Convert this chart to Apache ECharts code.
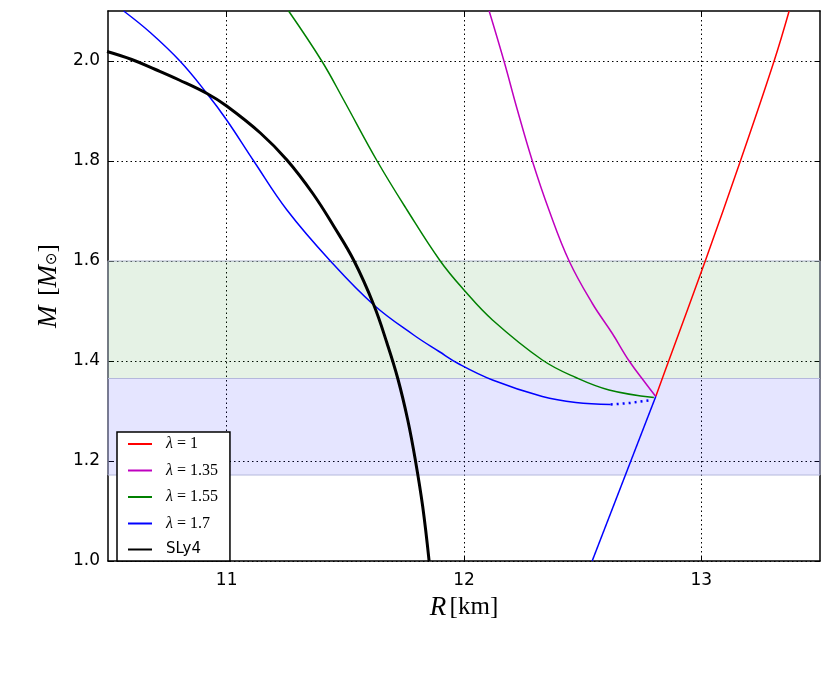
<!DOCTYPE html>
<html>
<head>
<meta charset="utf-8">
<script src="https://cdn.jsdelivr.net/npm/echarts@6/dist/echarts.min.js"></script>
<style>
  html, body { margin: 0; padding: 0; background: #fff; }
  #chart { width: 831px; height: 678px; }
</style>
</head>
<body>
<div id="chart"></div>
<script>
/** 数据 (R in km, M in solar masses) */
var sly4R = [10.496, 10.6, 10.7, 10.8, 10.917, 11.0, 11.142, 11.254, 11.363, 11.452, 11.537, 11.62, 11.676, 11.721, 11.763, 11.795, 11.826, 11.853]
var sly4M = [2.019, 2.003, 1.983, 1.962, 1.935, 1.91, 1.856, 1.802, 1.735, 1.669, 1.6, 1.512, 1.435, 1.365, 1.282, 1.202, 1.109, 1.0]

var lam1R = [12.808, 12.864, 13.018, 13.166, 13.306, 13.37]
var lam1M = [1.329, 1.402, 1.602, 1.802, 1.999, 2.1]

var lam135R = [12.106, 12.169, 12.225, 12.288, 12.358, 12.443, 12.541, 12.625, 12.696, 12.766, 12.808]
var lam135M = [2.1, 1.999, 1.902, 1.8, 1.702, 1.6, 1.515, 1.455, 1.4, 1.355, 1.329]

var lam155R = [11.261, 11.402, 11.493, 11.634, 11.76, 11.9, 12.0, 12.12, 12.33, 12.471, 12.611, 12.80]
var lam155M = [2.1, 1.999, 1.922, 1.8, 1.702, 1.6, 1.542, 1.482, 1.402, 1.367, 1.342, 1.327]

var lam17R = [10.566, 10.678, 10.805, 10.917, 11.0, 11.114, 11.254, 11.437, 11.62, 11.788, 11.895, 11.979, 12.12, 12.33, 12.471, 12.618]
var lam17M = [2.1, 2.057, 1.999, 1.935, 1.882, 1.8, 1.702, 1.6, 1.512, 1.452, 1.419, 1.394, 1.362, 1.329, 1.317, 1.313]
// 不稳定分支 (虚线) 和下分支
var lam17DotR = [12.618, 12.70, 12.79]
var lam17DotM = [1.313, 1.316, 1.322]
var lam17LowR = [12.808, 12.54]
var lam17LowM = [1.329, 1.0]

// 横带
var greenBand = [1.365, 1.6]
var blueBand = [1.172, 1.365]

var xTicks = [11, 12, 13]
var yTicks = [1.0, 1.2, 1.4, 1.6, 1.8, 2.0]

var legendNames = ['λ=1', 'λ=1.35', 'λ=1.55', 'λ=1.7', 'SLy4']

/** 工具 */
var pairs = function(xs, ys) {
	return xs.map(function(x, i) { return [x, ys[i]] })
}

var lineSeries = function(name, xs, ys, color, width, extra) {
	var s = {
		name: name,
		type: 'line',
		data: pairs(xs, ys),
		symbol: 'none',
		smooth: 0.4,
		lineStyle: { color: color, width: width },
		itemStyle: { color: color },
		z: 3
	}
	for (var k in extra) s[k] = extra[k]
	return s
}

var gridLine = { show: true, lineStyle: { color: '#000', width: 1, type: [1.5, 3] } }
var frame = { show: true, onZero: false, lineStyle: { color: '#000', width: 1.5 } }

var option = {
	animation: false,
	backgroundColor: '#fff',
	grid: { left: 108, right: 11, top: 11, bottom: 117 },
	legend: {
		data: legendNames,
		orient: 'vertical',
		left: 117,
		top: 432,
		padding: [4, 12, 4, 10],
		itemWidth: 24,
		itemHeight: 14,
		itemGap: 10.5,
		itemStyle: { opacity: 0 },
		backgroundColor: '#fff',
		borderColor: '#000',
		borderWidth: 1.5,
		borderRadius: 0,
		formatter: function(name) {
			if (name === 'SLy4') return '{s|SLy4}'
			return '{i|λ}{r| = ' + name.split('=')[1] + '}'
		},
		textStyle: {
			padding: [0, 0, 0, 9],
			rich: {
				i: { fontFamily: 'Liberation Serif', fontStyle: 'italic', fontSize: 16, color: '#000' },
				r: { fontFamily: 'Liberation Serif', fontSize: 16, color: '#000' },
				s: { fontFamily: 'DejaVu Sans', fontSize: 15, color: '#000' }
			}
		}
	},
	xAxis: [{
		type: 'value',
		min: 10.5,
		max: 13.5,
		axisLine: frame,
		axisTick: { show: true, inside: true, length: 5, lineStyle: { color: '#000' }, customValues: xTicks },
		axisLabel: { customValues: xTicks, color: '#000', fontFamily: 'DejaVu Sans', fontSize: 17, margin: 11 },
		splitLine: gridLine,
		name: '{i|R} {r|[km]}',
		nameLocation: 'middle',
		nameGap: 33,
		nameTextStyle: {
			rich: {
				i: { fontFamily: 'Liberation Serif', fontStyle: 'italic', fontSize: 27, color: '#000' },
				r: { fontFamily: 'Liberation Serif', fontSize: 25, color: '#000' }
			}
		}
	}, {
		type: 'value',
		position: 'top',
		min: 10.5,
		max: 13.5,
		axisLine: frame,
		axisTick: { show: true, inside: true, length: 5, lineStyle: { color: '#000' }, customValues: xTicks },
		axisLabel: { show: false },
		splitLine: { show: false }
	}],
	yAxis: [{
		type: 'value',
		min: 1.0,
		max: 2.1,
		axisLine: frame,
		axisTick: { show: true, inside: true, length: 5, lineStyle: { color: '#000' }, customValues: yTicks },
		axisLabel: {
			customValues: yTicks,
			color: '#000',
			fontFamily: 'DejaVu Sans',
			fontSize: 17,
			margin: 8,
			formatter: function(v) { return v.toFixed(1) }
		},
		splitLine: gridLine,
		name: '{i|M} {r| [}{i|M}{s|⊙}{r|]}',
		nameLocation: 'middle',
		nameGap: 43,
		nameTextStyle: {
			rich: {
				i: { fontFamily: 'Liberation Serif', fontStyle: 'italic', fontSize: 27, color: '#000' },
				r: { fontFamily: 'Liberation Serif', fontSize: 25, color: '#000' },
				s: { fontFamily: 'DejaVu Sans', fontSize: 15, color: '#000', padding: [8, 0, 0, 0] }
			}
		}
	}, {
		type: 'value',
		position: 'right',
		min: 1.0,
		max: 2.1,
		axisLine: frame,
		axisTick: { show: true, inside: true, length: 5, lineStyle: { color: '#000' }, customValues: yTicks },
		axisLabel: { show: false },
		splitLine: { show: false }
	}],
	series: [
		{
			name: 'bands',
			type: 'line',
			data: [],
			markArea: {
				silent: true,
				z: 1,
				data: [
					[{ yAxis: greenBand[0], itemStyle: { color: 'rgba(0,128,0,0.1)', borderColor: '#aab2c8', borderWidth: 1 } }, { yAxis: greenBand[1] }],
					[{ yAxis: blueBand[0], itemStyle: { color: 'rgba(0,0,255,0.1)', borderColor: '#b4b8dc', borderWidth: 1 } }, { yAxis: blueBand[1] }]
				]
			}
		},
		lineSeries('λ=1', lam1R, lam1M, '#ff0000', 1.5),
		lineSeries('λ=1.35', lam135R, lam135M, '#bf00bf', 1.5),
		lineSeries('λ=1.55', lam155R, lam155M, '#008000', 1.5),
		lineSeries('λ=1.7', lam17R, lam17M, '#0000ff', 1.5),
		lineSeries('lam17dot', lam17DotR, lam17DotM, '#0000ff', 2.5, { smooth: false, lineStyle: { color: '#0000ff', width: 2.5, type: [2, 4] } }),
		lineSeries('lam17low', lam17LowR, lam17LowM, '#0000ff', 1.5, { smooth: false }),
		lineSeries('SLy4', sly4R, sly4M, '#000000', 3, { z: 4 })
	]
}

var myChart = echarts.init(document.getElementById('chart'))
myChart.setOption(option)
</script>
</body>
</html>
